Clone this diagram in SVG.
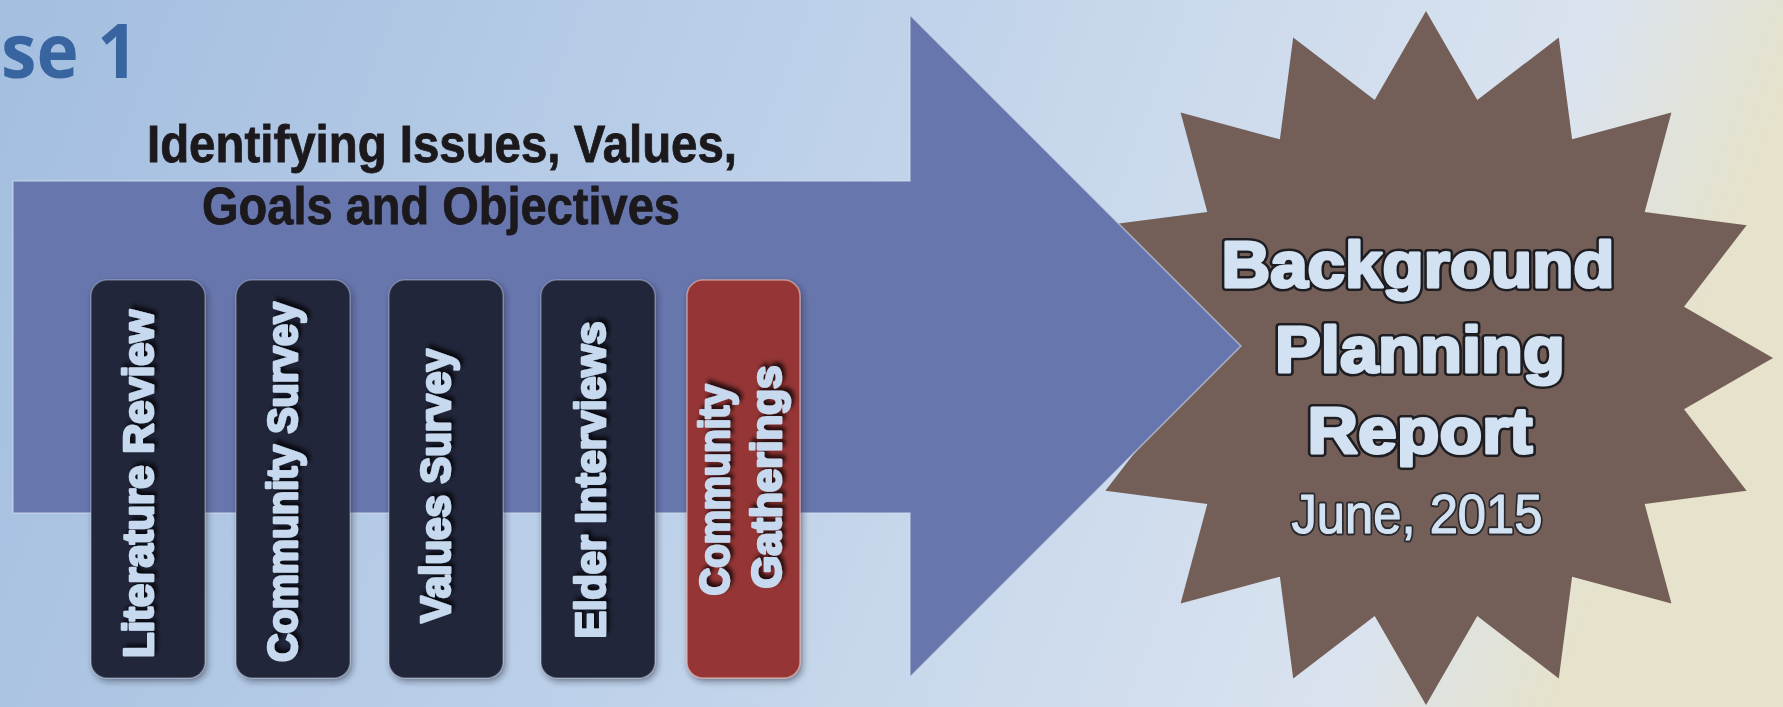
<svg xmlns="http://www.w3.org/2000/svg" width="1783" height="707" viewBox="0 0 1783 707">
<defs>
<linearGradient id="bg" x1="0" y1="0" x2="1" y2="0.15">
<stop offset="0" stop-color="#a3bedf"/>
<stop offset="0.5" stop-color="#bfd2ea"/>
<stop offset="0.88" stop-color="#dae3ef"/>
<stop offset="1" stop-color="#e6e2cb"/>
</linearGradient>
<filter id="sh" x="-20%" y="-20%" width="140%" height="140%">
<feDropShadow dx="4" dy="3" stdDeviation="2" flood-color="#000" flood-opacity="0.75"/>
</filter>
<filter id="bsh" x="-20%" y="-10%" width="140%" height="120%">
<feDropShadow dx="2" dy="3" stdDeviation="3" flood-color="#1a2030" flood-opacity="0.5"/>
</filter>
</defs>
<style>
.title{font-family:"Liberation Sans",Arial,sans-serif;font-weight:bold;font-size:51px;fill:#1c191d;stroke:#1c191d;stroke-width:0.8;text-anchor:middle}
.blk{stroke:#c9d2e2;stroke-opacity:0.35;stroke-width:1.5}
.dark{fill:#22273a}
.red{fill:#953634;stroke:#e0b0a8;stroke-opacity:0.7}
.vt{font-family:"Liberation Sans",Arial,sans-serif;font-weight:bold;font-size:43px;fill:#c6d9ef;stroke:#c6d9ef;stroke-width:2.6;stroke-linejoin:round;text-anchor:middle;filter:url(#sh)}
.big{font-family:"Liberation Sans",Arial,sans-serif;font-weight:bold;font-size:65px;stroke-linejoin:round;text-anchor:middle}
.o{fill:#1e1e22;stroke:#1e1e22;stroke-width:8}
.f{fill:#d3e2f3;stroke:#d3e2f3;stroke-width:3}
.date{font-family:"Liberation Sans",Arial,sans-serif;font-size:55px;stroke-linejoin:round;text-anchor:middle}
.do{fill:#2a2a2e;stroke:#2a2a2e;stroke-width:5}
.df{fill:#d3e2f3;stroke:#d3e2f3;stroke-width:1.2}
</style>
<rect x="0" y="0" width="1783" height="707" fill="url(#bg)"/>
<text x="1" y="78" font-family="'Open Sans','Liberation Sans',sans-serif" font-weight="bold" font-size="75" fill="#3865a0" textLength="137" lengthAdjust="spacingAndGlyphs">se 1</text>
<g id="star">
<polygon fill="#735f58" points="1426,11 1477.3,100 1558.8,37.4 1572.1,139.3 1671.4,112.6 1644.7,211.9 1746.6,225.2 1684,306.7 1773,358 1684,409.3 1746.6,490.8 1644.7,504.1 1671.4,603.4 1572.1,576.7 1558.8,678.6 1477.3,616 1426,705 1374.7,616 1293.2,678.6 1279.9,576.7 1180.6,603.4 1207.3,504.1 1105.4,490.8 1168,409.3 1079,358 1168,306.7 1105.4,225.2 1207.3,211.9 1180.6,112.6 1279.9,139.3 1293.2,37.4 1374.7,100"/>
</g>
<g id="connectors">
<g id="arrow">
<polygon fill="#6776ad" stroke="#d4deec" stroke-opacity="0.6" stroke-width="1.5" points="13,181 910,181 910,15 1241,346 910,677 910,513 13,513"/>
</g>
</g>
<g id="title">
<text class="title" x="442" y="162" textLength="590" lengthAdjust="spacingAndGlyphs">Identifying Issues, Values,</text>
<text class="title" x="441" y="224" textLength="478" lengthAdjust="spacingAndGlyphs">Goals and Objectives</text>
</g>
<g id="literature-review">
<rect class="blk dark" x="91" y="280" width="114" height="398" rx="16" filter="url(#bsh)"/>
<text class="vt" transform="translate(153,484) rotate(-90)" x="0" y="0" textLength="348" lengthAdjust="spacingAndGlyphs">Literature Review</text>
</g>
<g id="community-survey">
<rect class="blk dark" x="236" y="280" width="114" height="398" rx="16" filter="url(#bsh)"/>
<text class="vt" transform="translate(297,482) rotate(-90)" x="0" y="0" textLength="360" lengthAdjust="spacingAndGlyphs">Community Survey</text>
</g>
<g id="values-survey">
<rect class="blk dark" x="389" y="280" width="114" height="398" rx="16" filter="url(#bsh)"/>
<text class="vt" transform="translate(450,486) rotate(-90)" x="0" y="0" textLength="274" lengthAdjust="spacingAndGlyphs">Values Survey</text>
</g>
<g id="elder-interviews">
<rect class="blk dark" x="541" y="280" width="114" height="398" rx="16" filter="url(#bsh)"/>
<text class="vt" transform="translate(605,480) rotate(-90)" x="0" y="0" textLength="317" lengthAdjust="spacingAndGlyphs">Elder Interviews</text>
</g>
<g id="community-gatherings">
<rect class="blk red" x="687" y="280" width="113" height="398" rx="16" filter="url(#bsh)"/>
<text class="vt" transform="translate(729,490) rotate(-90)" x="0" y="0" textLength="211" lengthAdjust="spacingAndGlyphs">Community</text>
<text class="vt" transform="translate(781,477) rotate(-90)" x="0" y="0" textLength="223" lengthAdjust="spacingAndGlyphs">Gatherings</text>
</g>
<g id="report">
<text class="big o" x="1418" y="287" textLength="393" lengthAdjust="spacingAndGlyphs">Background</text>
<text class="big o" x="1420" y="372" textLength="290" lengthAdjust="spacingAndGlyphs">Planning</text>
<text class="big o" x="1420" y="453" textLength="225" lengthAdjust="spacingAndGlyphs">Report</text>
<text class="date do" x="1417" y="533" textLength="251" lengthAdjust="spacingAndGlyphs">June, 2015</text>
<text class="big f" x="1418" y="287" textLength="393" lengthAdjust="spacingAndGlyphs">Background</text>
<text class="big f" x="1420" y="372" textLength="290" lengthAdjust="spacingAndGlyphs">Planning</text>
<text class="big f" x="1420" y="453" textLength="225" lengthAdjust="spacingAndGlyphs">Report</text>
<text class="date df" x="1417" y="533" textLength="251" lengthAdjust="spacingAndGlyphs">June, 2015</text>
</g>
</svg>
